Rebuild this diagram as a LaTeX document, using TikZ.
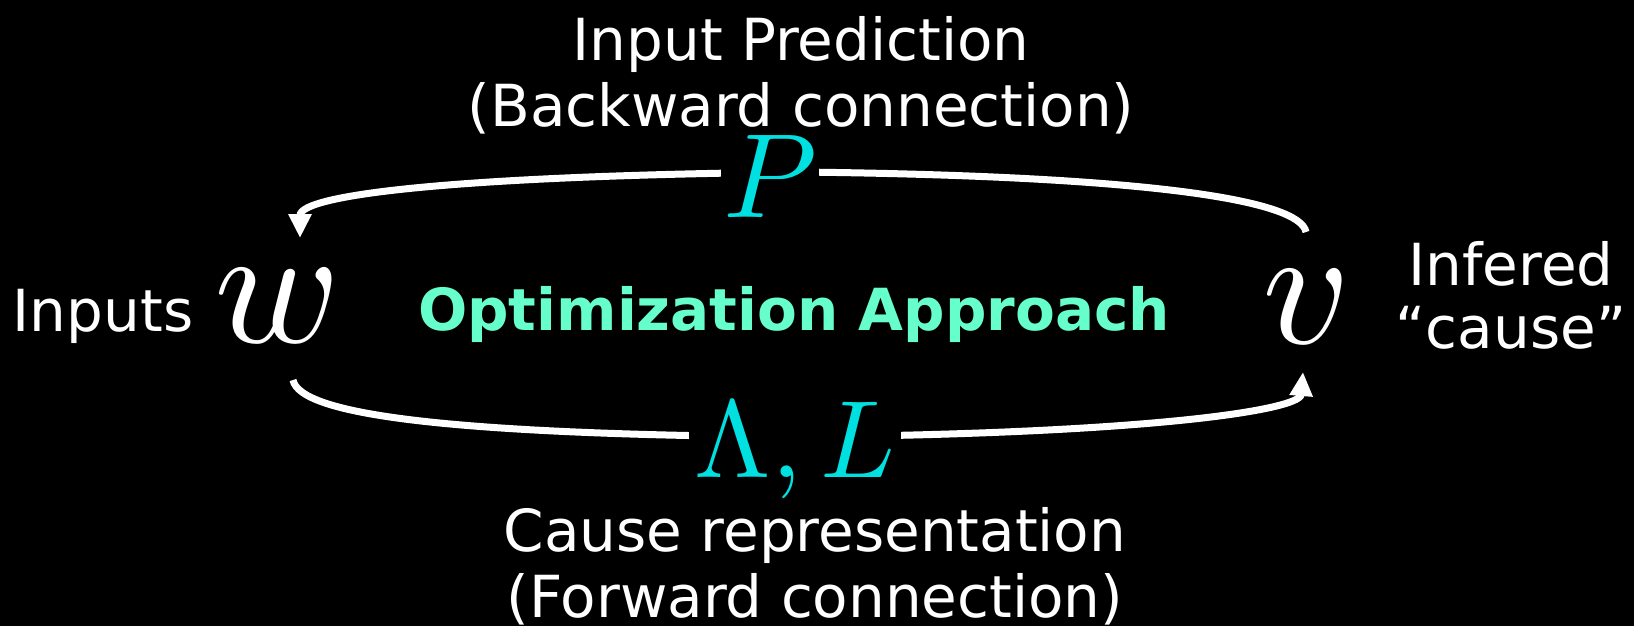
\documentclass[tikz,border=0pt]{standalone}
\usepackage{graphicx}
\usepackage{fontspec}
\setmainfont{DejaVu Sans}
\usetikzlibrary{arrows.meta}
\definecolor{mathcyan}{RGB}{0,224,224}
\definecolor{optgreen}{RGB}{102,255,204}
\tikzset{
  lbl/.style={text=white, font=\fontsize{58}{66}\selectfont, align=center, inner sep=0pt},
  var/.style={text=white, inner sep=0pt, anchor=base},
  mlabel/.style={text=mathcyan, fill=black, inner ysep=2pt, anchor=base},
  arc/.style={draw=white, line width=7pt, -{Triangle[length=24pt,width=22pt]}}
}
\begin{document}
\begin{tikzpicture}[x=1pt,y=-1pt]
\fill[black] (0,0) rectangle (1634,626);
\useasboundingbox (0,0) rectangle (1634,626);

% variables
\node[var] (w) at (278,342) {\scalebox{17}{$w$}};
\node[var] (v) at (1307,343) {\scalebox{17}{$v$}};

% arc end points
\coordinate (vtop) at (1306,232);
\coordinate (topmid) at (800,172);
\coordinate (wtop) at (300,238);
\coordinate (wbot) at (293,380);
\coordinate (botmid) at (790,437);
\coordinate (vbot) at (1303,372);

% backward connection
\draw[arc] (vtop) .. controls (1300,200) and (1150,176) .. (topmid)
                  .. controls (450,176) and (300,195) .. (wtop);
% forward connection
\draw[arc] (wbot) .. controls (300,415) and (450,434) .. (botmid)
                  .. controls (1150,434) and (1300,410) .. (vbot);

% connection labels
\node[mlabel, inner xsep=2pt] (P) at (770,217) {\scalebox{12}{$P$}};
\node[mlabel, inner xsep=6pt] (LL) at (795,477) {\scalebox{11}{$\Lambda, L$}};

% texts (anchor base = baseline of the last line)
\node[lbl, anchor=base] (top) at (801,126) {Input Prediction\\(Backward connection)};
\node[lbl, anchor=base] (bot) at (815,617) {Cause representation\\(Forward connection)};
\node[lbl, anchor=base] (inputs) at (103,331) {Inputs};
\node[lbl, anchor=base, font=\fontsize{58}{63}\selectfont] (cause) at (1511,348) {Infered\\“cause”};
\node[lbl, anchor=base, text=optgreen, font=\fontsize{58}{66}\selectfont\bfseries] (opt) at (794,330) {Optimization Approach};
\end{tikzpicture}
\end{document}
